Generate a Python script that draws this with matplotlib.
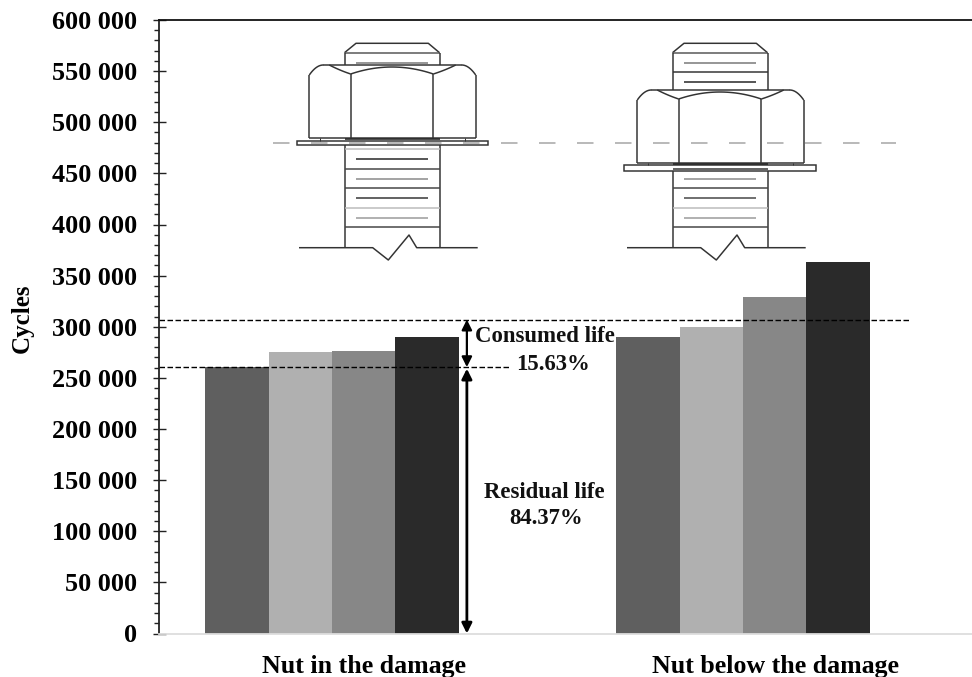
import numpy as np
import matplotlib
matplotlib.use('Agg')
import matplotlib.pyplot as plt
from matplotlib.patches import Rectangle

plt.rcParams['font.family'] = ['Liberation Serif', 'DejaVu Serif']
plt.rcParams['font.weight'] = 'bold'
plt.rcParams['lines.scale_dashes'] = False

# Данные
groups = ['Nut in the damage', 'Nut below the damage']
series_1 = [261000, 290000]
series_2 = [275000, 299500]
series_3 = [276000, 329000]
series_4 = [290000, 363000]
series_colors = ['#5f5f5f', '#b0b0b0', '#878787', '#2a2a2a']
y_major = np.arange(0, 600001, 50000)
y_minor = np.arange(0, 600001, 10000)
consumed_level = 307000
residual_level = 260500

W, H = 972, 677
PX = 0.72  # 1 px в пунктах при dpi=100

fig = plt.figure(figsize=(W / 100, H / 100), dpi=100)
ax = fig.add_axes([158.5 / W, 1 - 633.5 / H, (W - 158.5) / W, 613.5 / H])

# Столбцы
bar_w = 0.154
for i, vals in enumerate([series_1, series_2, series_3, series_4]):
    ax.bar(np.arange(2) + (i - 1.5) * bar_w, vals, bar_w, color=series_colors[i], linewidth=0)

ax.set_xlim(-0.4223, 1.557)
ax.set_ylim(0, 600000)
ax.set_xticks([0.0785, 1.078])
ax.set_xticklabels(groups, fontsize=18.6, fontweight='bold')
ax.tick_params(axis='x', length=0, pad=15.5)
ax.set_yticks(y_major)
ax.set_yticks(y_minor, minor=True)
ax.set_yticklabels([f'{v:,}'.replace(',', ' ') for v in y_major], fontsize=18.8, fontweight='bold')
ax.tick_params(axis='y', which='major', direction='inout', length=13 * PX, width=1.4 * PX, color='#222222', pad=10.5)
ax.tick_params(axis='y', which='minor', direction='out', length=5.5 * PX, width=1.4 * PX, color='#222222')
ax.set_ylabel('Cycles', fontsize=18, fontweight='bold')
ax.yaxis.set_label_coords(-0.1685 + 12 / 813.5, 0.514)

ax.spines['right'].set_visible(False)
ax.spines['top'].set_linewidth(1.8 * PX)
ax.spines['top'].set_color('#111111')
ax.spines['left'].set_linewidth(1.8 * PX)
ax.spines['left'].set_color('#222222')
ax.spines['bottom'].set_linewidth(1.8 * PX)
ax.spines['bottom'].set_color('#dddddd')

# Уровни и стрелки
dash = (0, (5.5 * PX, 2.5 * PX))
ax.plot([-0.4223, 1.406], [consumed_level] * 2, color='black', lw=1.4 * PX, ls=dash)
ax.plot([-0.4223, 0.4307], [residual_level] * 2, color='black', lw=1.4 * PX, ls=dash)
arrow_x = 0.328
ax.annotate('', xy=(arrow_x, consumed_level), xytext=(arrow_x, residual_level),
            arrowprops=dict(arrowstyle='<|-|>', color='black', lw=1.6, mutation_scale=15, shrinkA=0, shrinkB=0))
ax.annotate('', xy=(arrow_x, residual_level - 1500), xytext=(arrow_x, 0),
            arrowprops=dict(arrowstyle='<|-|>', color='black', lw=2.0, mutation_scale=15, shrinkA=0, shrinkB=0))

# Слой в пикселях для подписей и схем болтов
ov = fig.add_axes([0, 0, 1, 1])
ov.set_xlim(0, W)
ov.set_ylim(H, 0)
ov.axis('off')
ov.patch.set_alpha(0)

for txt, x, y in [('Consumed life', 544.5, 337), ('15.63%', 552.5, 365),
                  ('Residual life', 544, 492), ('84.37%', 546.5, 519)]:
    ov.text(x, y, txt, ha='center', va='center', fontsize=16.4, fontweight='bold', color='#111111')


def seg(xs, ys, color='#333333', lw=1.5):
    ov.plot(xs, ys, color=color, lw=lw * PX, solid_capstyle='butt')


def arc(x0, y0, x1, y1, bulge, color='#333333', lw=1.5):
    # дуга как квадратичная кривая
    t = np.linspace(0, 1, 30)
    mx, my = (x0 + x1) / 2, (y0 + y1) / 2 - bulge
    seg((1 - t) ** 2 * x0 + 2 * t * (1 - t) * mx + t ** 2 * x1,
        (1 - t) ** 2 * y0 + 2 * t * (1 - t) * my + t ** 2 * y1, color, lw)


def draw_bolt(dx, nut_dy, top_lines, low_lines, washer):
    cx0, cx1 = 344.5 + dx, 439.5 + dx
    nut_top, nut_bot = 65 + nut_dy, 138.3 + nut_dy
    # головка стержня
    seg([cx0, 356 + dx, 428.3 + dx, cx1], [52.7, 43.3, 43.3, 52.7])
    seg([cx0, cx1], [52.7, 52.7], '#555555')
    seg([cx0, cx0], [52.7, nut_top])
    seg([cx1, cx1], [52.7, nut_top])
    # гайка
    n0, n1 = 309.3 + dx, 475.7 + dx
    i0, i1 = 350.7 + dx, 433.3 + dx
    seg([n0, n0], [nut_top + 10, nut_bot])
    seg([n1, n1], [nut_top + 10, nut_bot])
    seg([i0, i0], [nut_top + 9, nut_bot])
    seg([i1, i1], [nut_top + 9, nut_bot])
    seg([n0 + 14, n1 - 14], [nut_top, nut_top])
    seg([n0, n1], [nut_bot, nut_bot])
    arc(n0, nut_top + 10, n0 + 14, nut_top, 5)
    arc(n1 - 14, nut_top, n1, nut_top + 10, 5)
    arc(n0 + 20, nut_top, i0, nut_top + 9, -1)
    arc(i1, nut_top + 9, n1 - 20, nut_top, -1)
    arc(i0, nut_top + 9, i1, nut_top + 9, 14)
    # шайба
    wx0, wx1, wy0, wy1 = washer
    ov.add_patch(Rectangle((wx0, wy0), wx1 - wx0, wy1 - wy0, fill=False, ec='#333333', lw=1.5 * PX))
    seg([n0 + 11, n0 + 11], [nut_bot, wy0], lw=1)
    seg([n1 - 11, n1 - 11], [nut_bot, wy0], lw=1)
    seg([cx0, cx1], [nut_bot + 1, nut_bot + 1], '#222222', 1.6)
    # стержень
    seg([cx0, cx0], [wy1, 247.7])
    seg([cx1, cx1], [wy1, 247.7])
    for y, kind, color in top_lines + low_lines:
        if kind == 'long':
            seg([cx0, cx1], [y, y], color)
        else:
            seg([356 + dx, 428.3 + dx], [y, y], color)
    # линия обрыва
    seg(np.array([299, 372.7, 388.3, 409, 416.7, 477.7]) + dx,
        [247.7, 247.7, 260, 235, 247.7, 247.7])


draw_bolt(0, 0,
          [(62.7, 'short', '#777777')],
          [(149.3, 'long', '#bbbbbb'), (159.3, 'short', '#222222'), (169, 'long', '#444444'),
           (178.7, 'short', '#888888'), (188.3, 'long', '#444444'), (198, 'short', '#333333'),
           (207.7, 'long', '#bbbbbb'), (217.7, 'short', '#999999'), (227.3, 'long', '#444444')],
          (296.7, 487.7, 140.7, 145.3))
draw_bolt(328, 25,
          [(62.7, 'short', '#777777'), (72.3, 'long', '#333333'), (82, 'short', '#222222')],
          [(169.3, 'long', '#333333'), (178.7, 'short', '#888888'), (188.3, 'long', '#444444'),
           (198, 'short', '#444444'), (207.7, 'long', '#bbbbbb'), (217.7, 'short', '#999999'),
           (227.3, 'long', '#444444')],
          (624, 815.7, 165.3, 171))

# Штриховая линия уровня повреждения
ov.plot([272.7, 896], [142.7, 142.7], color='#aaaaaa', lw=1.6 * PX, ls=(0, (16.5 * PX, 21.5 * PX)))

fig.savefig('out.png', dpi=100)
